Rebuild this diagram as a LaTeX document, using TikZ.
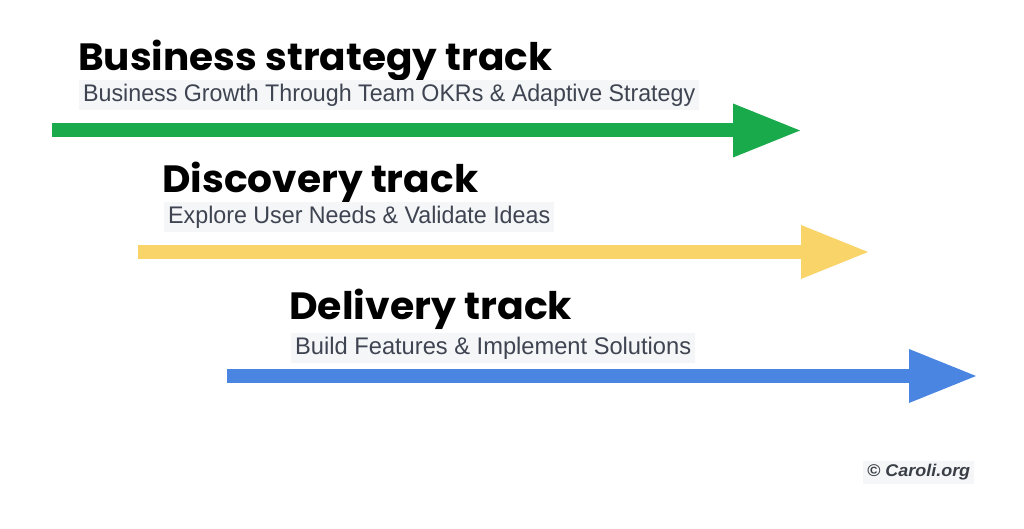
\documentclass[tikz,border=0pt]{standalone}
\usepackage{fontspec}
\usetikzlibrary{arrows.meta}
\newfontfamily\titlefont{Poppins}
\newfontfamily\subfont{Liberation Sans}
\definecolor{trgreen}{HTML}{18AA4B}
\definecolor{tryellow}{HTML}{F9D468}
\definecolor{trblue}{HTML}{4A86E1}
\definecolor{subbg}{HTML}{F5F6F7}
\definecolor{subtx}{HTML}{3E4451}
\definecolor{copytx}{HTML}{3A3F47}
\newsavebox\fitbox
\newlength\fitlen
\newcommand\fitx[2]{\sbox\fitbox{#2}\setlength\fitlen{\wd\fitbox}\pgfmathsetmacro\fitfac{#1/\fitlen}\scalebox{\fitfac}[1]{\usebox\fitbox}}
\tikzset{
  titletext/.style={anchor=base west, inner sep=0pt, text=black, font=\titlefont\bfseries\fontsize{38}{40}\selectfont},
  subtext/.style={anchor=base west, fill=subbg, text=subtx, inner xsep=4pt, inner ysep=2pt, text height=20pt, text depth=6pt, font=\subfont\fontsize{24}{26}\selectfont},
  copytext/.style={anchor=base west, fill=subbg, text=copytx, inner xsep=4pt, inner ysep=2pt, text height=14pt, text depth=5pt, font=\subfont\bfseries\itshape\fontsize{17}{20}\selectfont},
  trackarrow/.style={line width=14pt, -{Triangle[length=67pt,width=54pt,line width=0pt]}},
}
\begin{document}
\begin{tikzpicture}[x=1pt,y=1pt]
\useasboundingbox[fill=white] (0,0) rectangle (1024,529);
% Business strategy track
\node[titletext] (t1) at (78,458) {\fitx{474}{Business strategy track}};
\node[subtext] (s1) at (79,427) {\fitx{612}{Business Growth Through Team OKRs \& Adaptive Strategy}};
\coordinate (g1) at (52,398.5);
\coordinate (g2) at (800,398.5);
\draw[trackarrow, draw=trgreen, fill=trgreen] (g1) -- (g2);
% Discovery track
\node[titletext] (t2) at (162,336) {\fitx{316}{Discovery track}};
\node[subtext] (s2) at (164,305) {\fitx{382}{Explore User Needs \& Validate Ideas}};
\coordinate (y1) at (138,277);
\coordinate (y2) at (868,277);
\draw[trackarrow, draw=tryellow, fill=tryellow] (y1) -- (y2);
% Delivery track
\node[titletext] (t3) at (289,209) {\fitx{283}{Delivery track}};
\node[subtext] (s3) at (291,174) {\fitx{396}{Build Features \& Implement Solutions}};
\coordinate (b1) at (227,153);
\coordinate (b2) at (976,153);
\draw[trackarrow, draw=trblue, fill=trblue] (b1) -- (b2);
% copyright
\node[copytext] (c) at (863,52) {\fitx{103}{© Caroli.org}};
\end{tikzpicture}
\end{document}
